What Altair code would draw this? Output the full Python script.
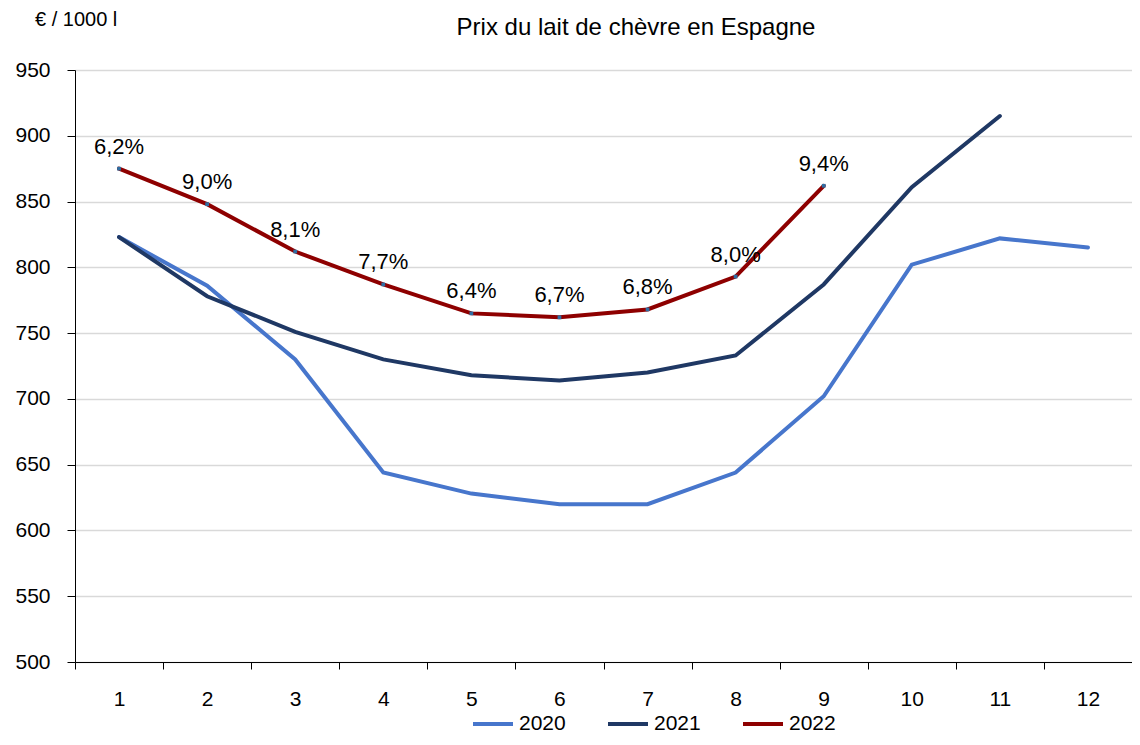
import altair as alt
import pandas as pd

mois = list(range(1, 13))
prix_2020 = [823, 786, 730, 644, 628, 620, 620, 644, 702, 802, 822, 815]
prix_2021 = [823, 778, 751, 730, 718, 714, 720, 733, 787, 861, 915]
prix_2022 = [875, 848, 812, 787, 765, 762, 768, 793, 862]
labels_2022 = ["6,2%", "9,0%", "8,1%", "7,7%", "6,4%", "6,7%", "6,8%", "8,0%", "9,4%"]
annees = ["2020", "2021", "2022"]
couleurs = ["#4776cc", "#1f3864", "#8e0000"]
y_ticks = list(range(500, 951, 50))
titre = "Prix du lait de chèvre en Espagne"
unite = "€ / 1000 l"

rows = []
for annee, serie in zip(annees, [prix_2020, prix_2021, prix_2022]):
    for m, v in zip(mois, serie):
        rows.append({"mois": m, "prix": v, "annee": annee})
df = pd.DataFrame(rows)
df22 = pd.DataFrame({"mois": mois[:len(prix_2022)], "prix": prix_2022, "lab": labels_2022})

FONT = "Liberation Sans"

x = alt.X("mois:O", bandPosition=0.5,
          scale=alt.Scale(type="band", paddingInner=0, paddingOuter=0, domain=mois),
          axis=alt.Axis(title=None, labelAngle=0, tickBand="extent", tickSize=7,
                        tickColor="black", domainColor="black", labelPadding=19,
                        labelFontSize=21, labelColor="black", labelFont=FONT, grid=False))
y = alt.Y("prix:Q", scale=alt.Scale(domain=[500, 950], nice=False, zero=False),
          axis=alt.Axis(title=None, values=y_ticks, tickSize=8, tickColor="black",
                        domainColor="black", labelPadding=17, labelFontSize=21,
                        labelColor="black", labelFont=FONT, grid=True,
                        gridColor="#d9d9d9", gridWidth=1.3))

lines = alt.Chart(df).mark_line(strokeWidth=4, strokeCap="round").encode(
    x=x, y=y,
    color=alt.Color("annee:N", scale=alt.Scale(domain=annees, range=couleurs),
                    legend=alt.Legend(title=None, orient="none", direction="horizontal",
                                      legendX=396, legendY=632, symbolType="stroke",
                                      symbolStrokeWidth=4, symbolSize=1600,
                                      labelFontSize=21, labelFont=FONT, labelColor="black",
                                      labelOffset=4, columnPadding=34, padding=0)),
    order="mois:O",
)

points = alt.Chart(df22).mark_square(size=14, color="#2f6ea3", opacity=1).encode(
    x=alt.X("mois:O", bandPosition=0.5), y="prix:Q")

texts = alt.Chart(df22).mark_text(dy=-22, fontSize=22, font=FONT, color="black").encode(
    x=alt.X("mois:O", bandPosition=0.5), y="prix:Q", text="lab:N")

title_mark = alt.Chart(pd.DataFrame({"t": [titre]})).mark_text(
    fontSize=24, font=FONT, color="black", align="center", baseline="middle").encode(
    x=alt.value(561), y=alt.value(-42), text="t:N")

unit_mark = alt.Chart(pd.DataFrame({"t": [unite]})).mark_text(
    fontSize=20, font=FONT, color="black", align="left", baseline="middle").encode(
    x=alt.value(-40), y=alt.value(-50), text="t:N")

chart = alt.layer(lines, points, texts, title_mark, unit_mark).properties(
    width=1057, height=592,
    autosize=alt.AutoSizeParams(type="none"),
    padding={"left": 67, "top": 62, "right": 0, "bottom": 75},
).configure_view(stroke=None)

chart.save("out.html", embed_options={"renderer": "svg", "actions": False})
